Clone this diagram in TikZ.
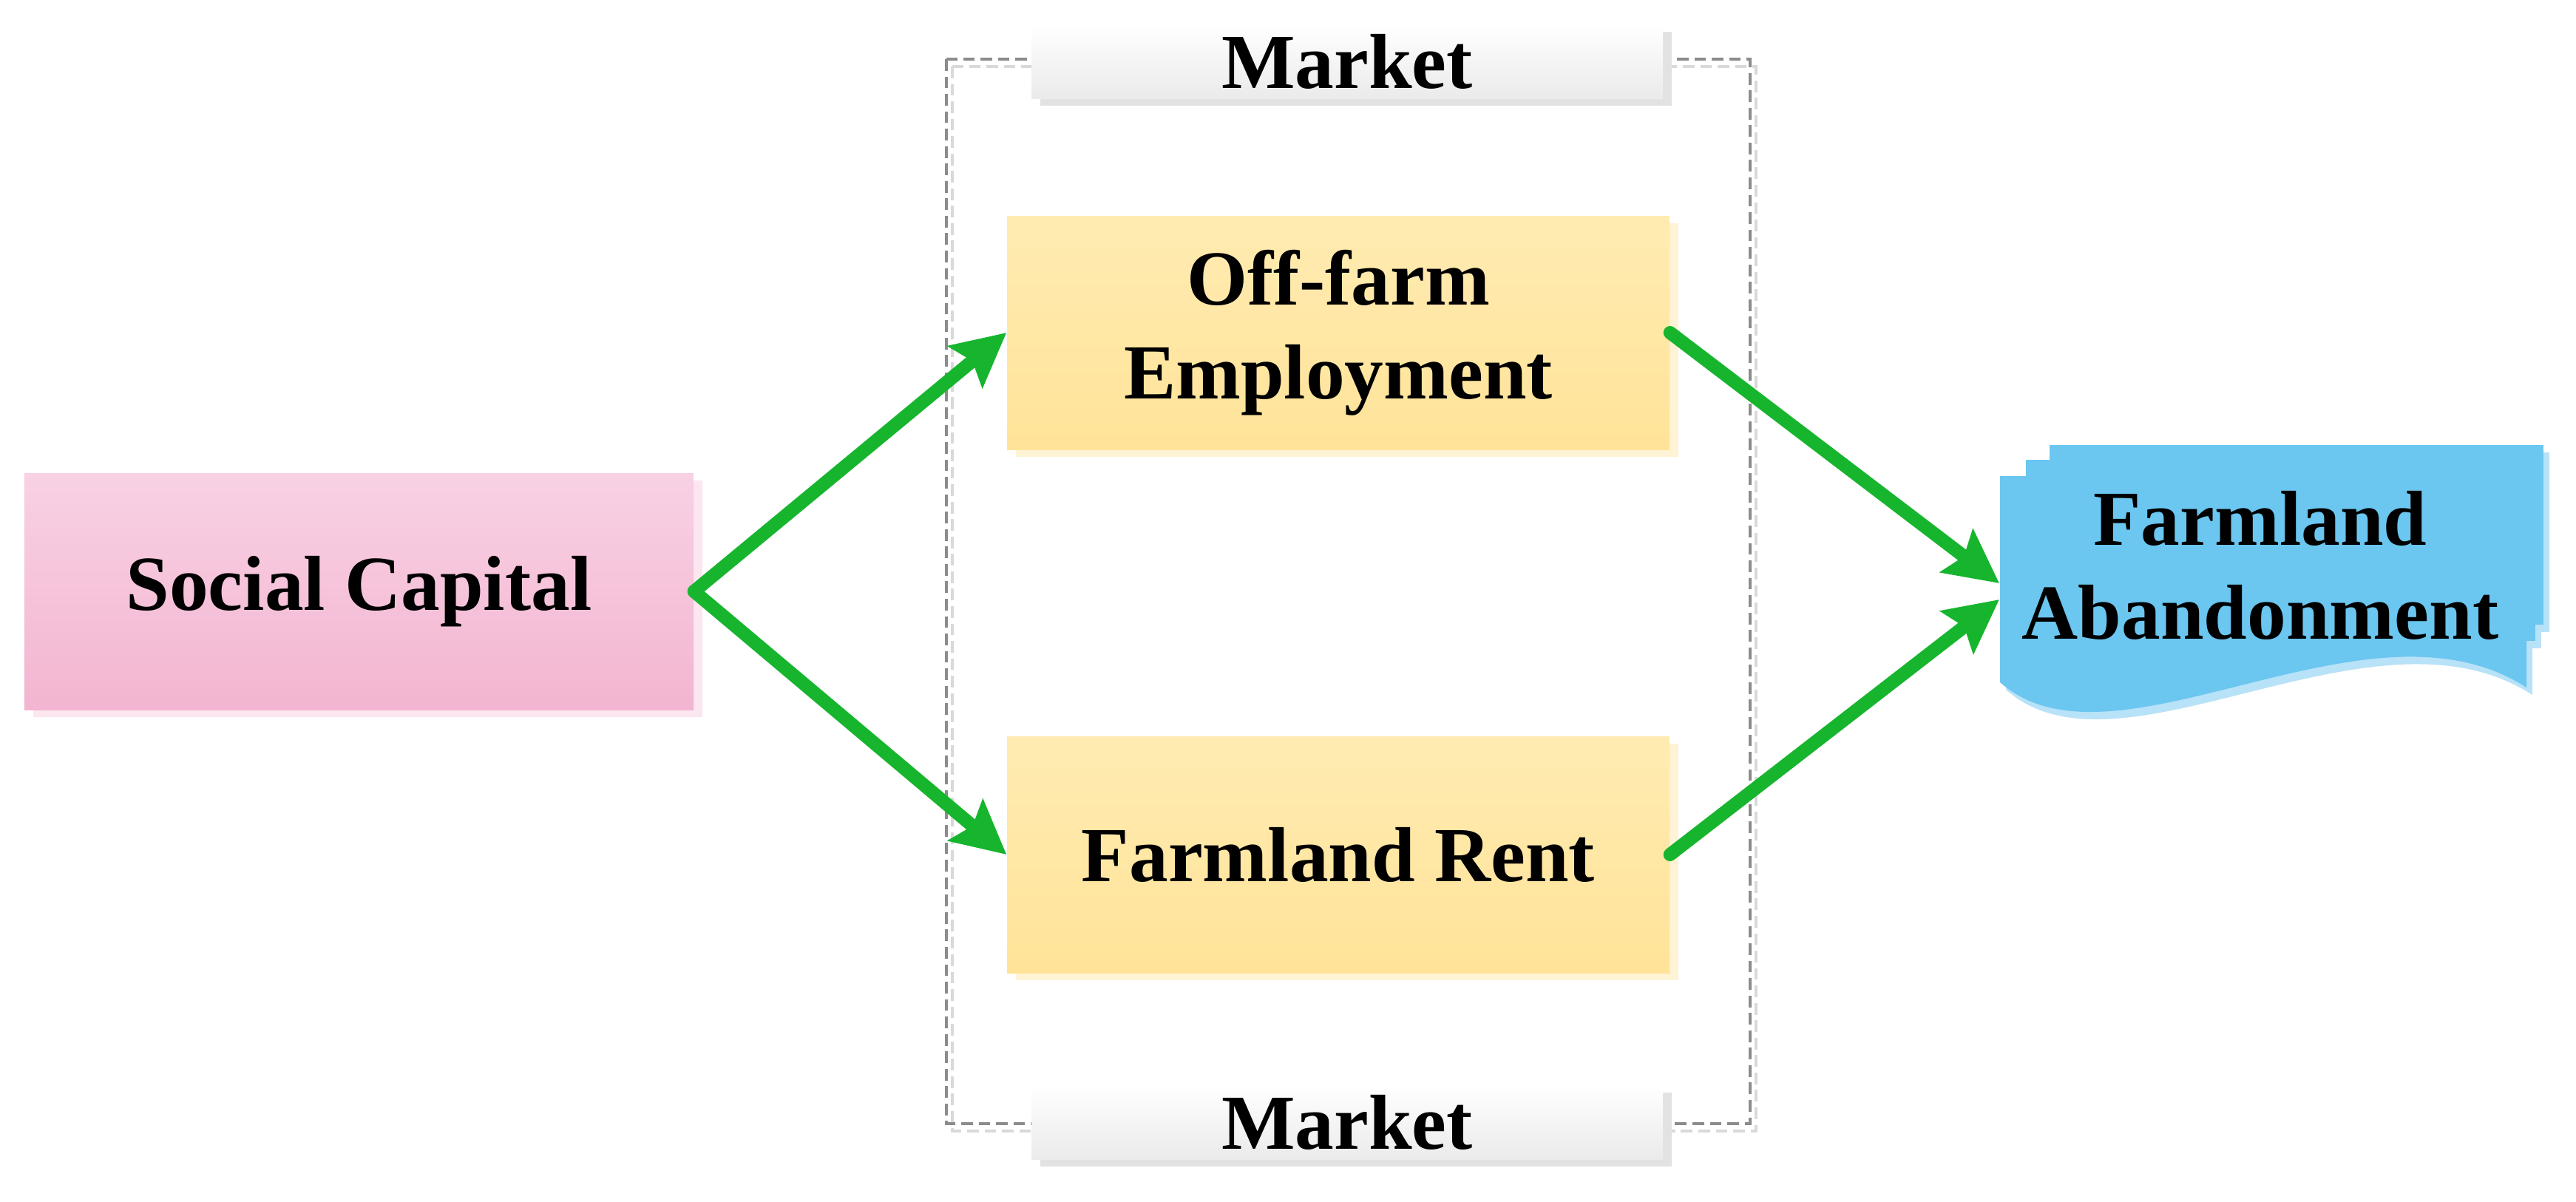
\documentclass[tikz,border=0pt]{standalone}
\usepackage{fontspec}
\setmainfont{Liberation Serif}
\usetikzlibrary{arrows.meta,shadows}

\definecolor{scTop}{HTML}{F8D1E4}
\definecolor{scBot}{HTML}{F3B5D1}
\definecolor{scShd}{HTML}{FCE6F0}
\definecolor{ylTop}{HTML}{FFEBB2}
\definecolor{ylBot}{HTML}{FFE398}
\definecolor{ylShd}{HTML}{FFF3D6}
\definecolor{abBlue}{HTML}{6BC6F0}
\definecolor{abShd}{HTML}{B8E2F7}
\definecolor{arrGreen}{HTML}{17B52E}
\definecolor{mkShd}{HTML}{E2E2E2}

\begin{document}
\begin{tikzpicture}[
  font=\bfseries\fontsize{30}{36}\selectfont,
  box/.style={rectangle, minimum width=8.96cm, minimum height=3.16cm, align=center,
    top color=ylTop, bottom color=ylBot,
    drop shadow={shadow xshift=0.12cm, shadow yshift=-0.1cm, fill=ylShd, opacity=1}},
  mkt/.style={rectangle, minimum width=8.54cm, minimum height=1cm,
    top color=white, bottom color=black!8,
    drop shadow={shadow xshift=0.12cm, shadow yshift=-0.1cm, fill=mkShd, opacity=1}},
  frame/.style={dash pattern=on 4.5pt off 2.2pt, line width=0.9pt},
  arr/.style={draw=arrGreen, line width=0.18cm, line cap=round,
    -{Stealth[length=7.2mm, width=7.2mm, inset=1.2mm, fill=arrGreen]}}
]
\useasboundingbox (0,0) rectangle (34.84,-16.25);

\draw[frame, black!15] (12.88,-0.90) rectangle (23.75,-15.30);
\draw[frame, black!45] (12.80,-0.80) rectangle (23.67,-15.20);

\node[mkt] (m1) at (18.22,-0.83) {Market};
\node[mkt] (m2) at (18.22,-15.18) {Market};

\node[box, minimum width=9.05cm, minimum height=3.2cm, top color=scTop, bottom color=scBot,
  drop shadow={shadow xshift=0.12cm, shadow yshift=-0.1cm, fill=scShd, opacity=1}]
  (sc) at (4.855,-8.00) {Social Capital};
\node[box] (off) at (18.10,-4.50) {Off-farm\\Employment};
\node[box, minimum height=3.2cm] (rent) at (18.10,-11.56) {Farmland Rent};

\begin{scope}[shift={(0.08,-0.1)}, fill=abShd]
\fill (27.72,-6.02) rectangle (34.40,-8.45);
\fill (27.40,-6.22) rectangle (34.29,-8.67);
\fill (27.05,-6.44) -- (34.17,-6.44) -- (34.17,-9.30)
  .. controls (32.0,-7.9) and (28.6,-10.6) .. (27.05,-9.23) -- cycle;
\end{scope}
\fill[abBlue] (27.72,-6.02) rectangle (34.40,-8.45);
\fill[abBlue] (27.40,-6.22) rectangle (34.29,-8.67);
\fill[abBlue] (27.05,-6.44) -- (34.17,-6.44) -- (34.17,-9.30)
  .. controls (32.0,-7.9) and (28.6,-10.6) .. (27.05,-9.23) -- cycle;
\node[align=center] (ab) at (30.57,-7.65) {Farmland\\Abandonment};
\coordinate (abin1) at (27.04,-7.89);
\coordinate (abin2) at (27.04,-8.11);

\draw[arr] (sc.east) -- (off.west);
\draw[arr] (sc.east) -- (rent.west);
\draw[arr] (off.east) -- (abin1);
\draw[arr] (rent.east) -- (abin2);
\end{tikzpicture}
\end{document}
